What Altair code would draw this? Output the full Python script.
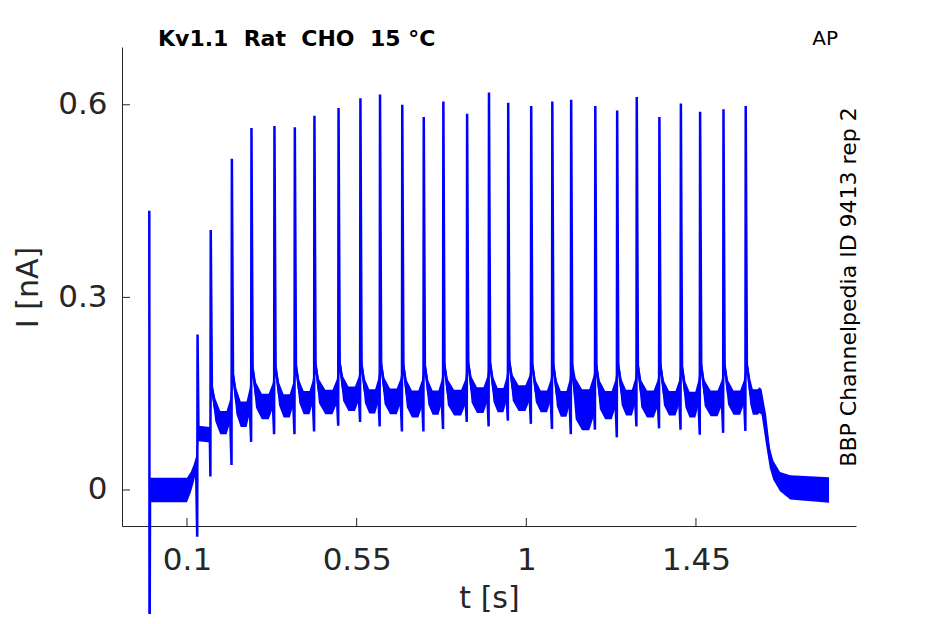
import altair as alt
import pandas as pd

# ---- values ----
spike_t = [0.000, 0.128, 0.163, 0.219, 0.271, 0.332, 0.386, 0.438, 0.502, 0.560,
           0.612, 0.671, 0.728, 0.780, 0.843, 0.901, 0.952, 1.013, 1.069, 1.119,
           1.183, 1.241, 1.293, 1.353, 1.410, 1.461, 1.523, 1.582]
spike_peak = [0.435, 0.242, 0.405, 0.516, 0.564, 0.567, 0.565, 0.583, 0.595, 0.610,
              0.616, 0.600, 0.581, 0.605, 0.586, 0.619, 0.603, 0.598, 0.605, 0.608,
              0.598, 0.591, 0.612, 0.581, 0.602, 0.589, 0.593, 0.598]
spike_dip = [-0.300, -0.073, 0.021, 0.039, 0.075, 0.087, 0.087, 0.091, 0.100, 0.106,
             0.099, 0.091, 0.091, 0.095, 0.106, 0.099, 0.108, 0.103, 0.095, 0.087,
             0.094, 0.082, 0.099, 0.096, 0.094, 0.086, 0.089, 0.092]

# baseline levels of each inter-spike cycle (after spikes 3..28)
cycle_post = [0.160, 0.180, 0.190, 0.192, 0.194, 0.196, 0.198, 0.196, 0.196, 0.194,
              0.194, 0.194, 0.198, 0.198, 0.200, 0.196, 0.194, 0.188, 0.192, 0.194,
              0.194, 0.194, 0.192, 0.194, 0.194, 0.196]
cycle_decay = [0.125, 0.138, 0.148, 0.150, 0.153, 0.154, 0.158, 0.154, 0.154, 0.150,
               0.152, 0.152, 0.156, 0.156, 0.159, 0.154, 0.150, 0.142, 0.148, 0.152,
               0.150, 0.151, 0.149, 0.151, 0.152, 0.153]
cycle_trough = [0.105, 0.118, 0.130, 0.131, 0.136, 0.137, 0.142, 0.138, 0.138, 0.134,
                0.136, 0.136, 0.140, 0.140, 0.143, 0.138, 0.134, 0.125, 0.132, 0.136,
                0.134, 0.135, 0.133, 0.135, 0.136, 0.137]
cycle_pre = [0.122, 0.138, 0.146, 0.148, 0.152, 0.153, 0.157, 0.154, 0.153, 0.150,
             0.152, 0.152, 0.156, 0.156, 0.158, 0.154, 0.150, 0.145, 0.149, 0.152,
             0.150, 0.151, 0.150, 0.151, 0.152, 0.140]
cycle_noise = [0.018, 0.020, 0.020, 0.018, 0.018, 0.019, 0.019, 0.019, 0.020, 0.021,
               0.019, 0.020, 0.020, 0.019, 0.020, 0.017, 0.020, 0.032, 0.022, 0.020,
               0.021, 0.019, 0.020, 0.020, 0.019, 0.020]

lead_t = [0.002, 0.100, 0.110, 0.118, 0.124]
lead_lvl = [0.000, 0.000, 0.012, 0.026, 0.040]
lead_noise = [0.019, 0.019, 0.016, 0.014, 0.012]

plateau_t = [0.1305, 0.1605]
plateau_lvl = [0.088, 0.086]
plateau_noise = [0.012, 0.012]

tail_t = [1.624, 1.636, 1.646, 1.655, 1.673, 1.700, 1.803]
tail_lvl = [0.137, 0.094, 0.050, 0.031, 0.013, 0.004, 0.000]
tail_noise = [0.020, 0.024, 0.016, 0.015, 0.015, 0.019, 0.020]

x_ticks = [0.1, 0.55, 1, 1.45]
y_ticks = [0, 0.3, 0.6]
x_domain = [-0.0724, 1.8745]
y_domain = [-0.0561, 0.690]

title_text = "Kv1.1\u00a0 Rat\u00a0 CHO\u00a0 15 \u00b0C"
tag_text = "AP"
side_text = "BBP Channelpedia ID 9413 rep 2"
x_title = "t [s]"
y_title = "I [nA]"

# ---- build trace + noise band tables ----
line_t, line_i = [], []
band_t, band_lo, band_hi = [], [], []


def add_base(t, c, h):
    line_t.append(t)
    line_i.append(c)
    band_t.append(t)
    band_lo.append(c - h)
    band_hi.append(c + h)


def add_spike(k):
    line_t.append(spike_t[k] - 0.0009)
    line_i.append(spike_dip[k])
    line_t.append(spike_t[k])
    line_i.append(spike_peak[k])


line_t += [spike_t[0], spike_t[0] + 0.0006]
line_i += [spike_peak[0], spike_dip[0]]
for t, c, h in zip(lead_t, lead_lvl, lead_noise):
    add_base(t, c, h)
add_spike(1)
for t, c, h in zip(plateau_t, plateau_lvl, plateau_noise):
    add_base(t, c, h)
for k, i in enumerate(range(2, len(spike_t))):
    add_spike(i)
    t0 = spike_t[i]
    t1 = spike_t[i + 1] if i + 1 < len(spike_t) else tail_t[0]
    dt = t1 - t0
    add_base(t0 + 0.003, cycle_post[k], cycle_noise[k] * 0.5)
    add_base(t0 + 0.012, cycle_decay[k], cycle_noise[k])
    add_base(t0 + 0.45 * dt, cycle_trough[k], cycle_noise[k])
    add_base(t0 + 0.75 * dt, cycle_trough[k], cycle_noise[k])
    add_base(t1 - 0.005, cycle_pre[k], cycle_noise[k])
for t, c, h in zip(tail_t, tail_lvl, tail_noise):
    add_base(t, c, h)

trace = pd.DataFrame({"t": line_t, "I": line_i, "n": list(range(len(line_t)))})
band = pd.DataFrame({"t": band_t, "lo": band_lo, "hi": band_hi})

BLUE = "#0000ff"
INK = "#262626"
FONT = "DejaVu Sans"

xs = alt.Scale(domain=x_domain, nice=False, zero=False)
ys = alt.Scale(domain=y_domain, nice=False, zero=False)

x_axis = alt.Axis(values=x_ticks, format=".3~g", ticks=False, grid=False,
                  labelPadding=19, labelFontSize=31, labelFont=FONT,
                  labelColor=INK, labelOverlap=False, labelFlush=False,
                  domainColor=INK, domainWidth=1,
                  title=x_title, titleFont=FONT, titleFontSize=30,
                  titleFontWeight="normal", titleColor=INK,
                  titleX=367, titleY=72, titleBaseline="middle", titleAlign="center")
y_axis = alt.Axis(values=y_ticks, format=".3~g", ticks=False, grid=False,
                  labelPadding=15, labelFontSize=31, labelFont=FONT,
                  labelColor=INK, labelOverlap=False, labelFlush=False,
                  domainColor=INK, domainWidth=1,
                  title=y_title, titleFont=FONT, titleFontSize=30,
                  titleFontWeight="normal", titleColor=INK, titleAngle=270,
                  titleX=-94, titleY=240, titleBaseline="middle", titleAlign="center")

band_layer = alt.Chart(band).mark_area(color=BLUE, opacity=1).encode(
    x=alt.X("t:Q", scale=xs, axis=x_axis),
    y=alt.Y("lo:Q", scale=ys, axis=y_axis),
    y2="hi:Q",
)

line_layer = alt.Chart(trace).mark_line(color=BLUE, strokeWidth=2.5,
                                         strokeJoin="bevel").encode(
    x=alt.X("t:Q", scale=xs, axis=x_axis),
    y=alt.Y("I:Q", scale=ys, axis=y_axis),
    order="n:Q",
)

xt = alt.Chart(pd.DataFrame({"v": x_ticks})).mark_rule(color=INK, strokeWidth=1).encode(
    x=alt.X("v:Q", scale=xs, axis=x_axis),
    y=alt.value(479), y2=alt.value(471),
)
yt = alt.Chart(pd.DataFrame({"v": y_ticks})).mark_rule(color=INK, strokeWidth=1).encode(
    y=alt.Y("v:Q", scale=ys, axis=y_axis),
    x=alt.value(0), x2=alt.value(8),
)

title_layer = alt.Chart(pd.DataFrame({"s": [title_text]})).mark_text(
    font=FONT, fontSize=22, fontWeight="bold", color="black",
    align="left", baseline="middle").encode(
    text="s:N", x=alt.value(36), y=alt.value(-8))

tag_layer = alt.Chart(pd.DataFrame({"s": [tag_text]})).mark_text(
    font=FONT, fontSize=20, color="black", align="right", baseline="middle").encode(
    text="s:N", x=alt.value(716), y=alt.value(-8))

side_layer = alt.Chart(pd.DataFrame({"s": [side_text]})).mark_text(
    font=FONT, fontSize=22, color="black", align="center", baseline="middle",
    angle=270).encode(
    text="s:N", x=alt.value(727), y=alt.value(240))

chart = alt.layer(band_layer, line_layer, xt, yt, title_layer, tag_layer, side_layer).properties(
    width=734, height=479,
    autosize=alt.AutoSizeParams(type="none"),
    padding={"left": 114, "top": 39, "right": 64, "bottom": 88},
    background="white",
).configure_view(stroke=None)

chart.save("out.html", embed_options={"renderer": "svg", "actions": False})
